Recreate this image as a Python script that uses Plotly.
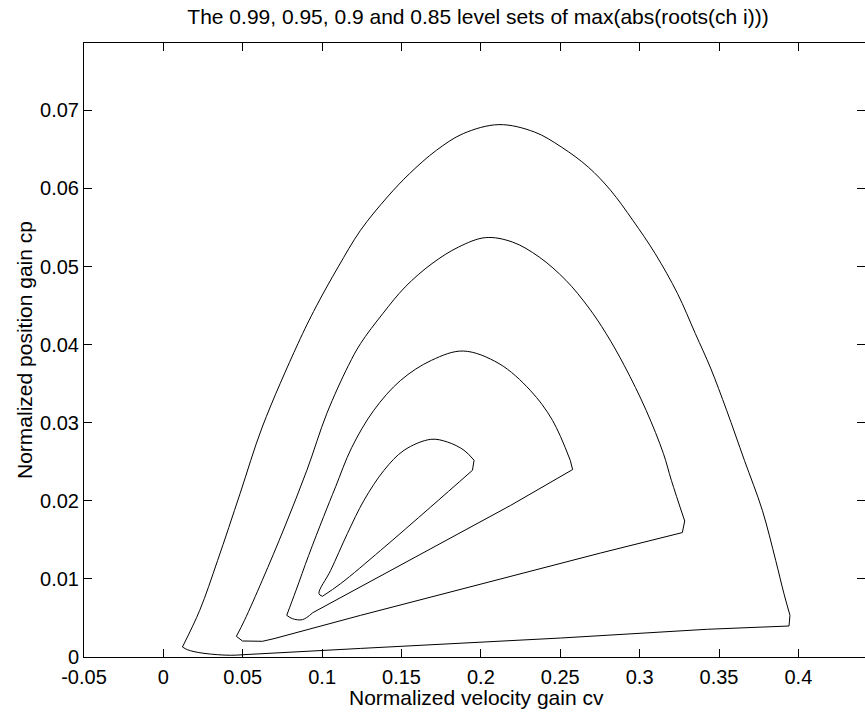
import plotly.graph_objects as go

# ---- data ----
title_text = "The 0.99, 0.95, 0.9 and 0.85 level sets of max(abs(roots(ch i)))"
x_label = "Normalized velocity gain cv"
y_label = "Normalized position gain cp"

x_ticks = [-0.05, 0, 0.05, 0.1, 0.15, 0.2, 0.25, 0.3, 0.35, 0.4]
x_tick_text = ["-0.05", "0", "0.05", "0.1", "0.15", "0.2", "0.25", "0.3", "0.35", "0.4"]
y_ticks = [0, 0.01, 0.02, 0.03, 0.04, 0.05, 0.06, 0.07]
y_tick_text = ["0", "0.01", "0.02", "0.03", "0.04", "0.05", "0.06", "0.07"]

levels = ["0.99", "0.95", "0.9", "0.85"]

cv_099 = [0.0120, 0.0151, 0.0193, 0.0256, 0.0340, 0.0424, 0.0508, 0.1243, 0.2503, 0.3427,
          0.3941, 0.3947, 0.3909, 0.3857, 0.3773, 0.3660, 0.3548, 0.3447, 0.3351, 0.3239,
          0.3098, 0.2957, 0.2817, 0.2676, 0.2507, 0.2338, 0.2114, 0.1889, 0.1720, 0.1551,
          0.1411, 0.1242, 0.1101, 0.0961, 0.0848, 0.0623, 0.0483, 0.0342, 0.0229, 0.0120]
cp_099 = [0.00128, 0.00094, 0.00069, 0.00047, 0.00030, 0.00022, 0.00030, 0.00110, 0.00243, 0.00355,
          0.00397, 0.00534, 0.00812, 0.01238, 0.01878, 0.02519, 0.03159, 0.03700, 0.04141, 0.04653,
          0.05165, 0.05592, 0.05976, 0.06274, 0.06530, 0.06722, 0.06817, 0.06702, 0.06488, 0.06190,
          0.05890, 0.05464, 0.04994, 0.04482, 0.04013, 0.02945, 0.02092, 0.01238, 0.00598, 0.00128]
corners_099 = [0, 6, 7, 8, 9, 10, 11, 39]

cv_095 = [0.0460, 0.0498, 0.0624, 0.0697, 0.1243, 0.2755, 0.3269, 0.3284, 0.3200, 0.3150,
          0.3041, 0.2904, 0.2789, 0.2676, 0.2536, 0.2367, 0.2198, 0.2029, 0.1860, 0.1692,
          0.1523, 0.1382, 0.1242, 0.1165, 0.1030, 0.0904, 0.0764, 0.0623, 0.0511, 0.0460]
cp_095 = [0.00265, 0.00205, 0.00201, 0.00235, 0.00534, 0.01332, 0.01593, 0.01741, 0.02262, 0.02604,
          0.03159, 0.03730, 0.04141, 0.04482, 0.04823, 0.05122, 0.05314, 0.05370, 0.05250, 0.05037,
          0.04738, 0.04397, 0.04013, 0.03730, 0.03120, 0.02391, 0.01665, 0.00982, 0.00470, 0.00265]
corners_095 = [0, 1, 2, 3, 4, 5, 6, 7, 29]

cv_090 = [0.0777, 0.0813, 0.0876, 0.0940, 0.2188, 0.2578, 0.2563, 0.2451, 0.2311, 0.2114,
          0.1889, 0.1690, 0.1495, 0.1326, 0.1186, 0.1085, 0.1010, 0.0915, 0.0835, 0.0777]
cp_090 = [0.00534, 0.00491, 0.00478, 0.00566, 0.01942, 0.02400, 0.02519, 0.03031, 0.03415, 0.03757,
          0.03918, 0.03800, 0.03543, 0.03160, 0.02680, 0.02180, 0.01800, 0.01300, 0.00850, 0.00534]
corners_090 = [0, 3, 4, 5, 6, 19]

cv_085 = [0.1002, 0.1117, 0.1369, 0.1684, 0.1947, 0.1957, 0.1894, 0.1789, 0.1684, 0.1516,
          0.1390, 0.1264, 0.1159, 0.1054, 0.0980, 0.1002]
cp_085 = [0.00777, 0.00940, 0.01366, 0.01921, 0.02391, 0.02519, 0.02647, 0.02753, 0.02787, 0.02647,
          0.02391, 0.02007, 0.01580, 0.01110, 0.00812, 0.00777]
corners_085 = [0, 4, 5, 15]

curves = [(cv_099, cp_099, corners_099), (cv_095, cp_095, corners_095),
          (cv_090, cp_090, corners_090), (cv_085, cp_085, corners_085)]

FONT = "Liberation Sans, Arial, Helvetica, sans-serif"

fig = go.Figure()
for name, (cv, cp, corners) in zip(levels, curves):
    # each contour is drawn piecewise: smooth arcs between its sharp corners
    for a, b in zip(corners[:-1], corners[1:]):
        fig.add_trace(go.Scatter(x=cv[a:b + 1], y=cp[a:b + 1], mode="lines", name=name,
                                 line=dict(color="black", width=1, shape="spline", smoothing=1.0),
                                 showlegend=False, hoverinfo="skip"))

W, H = 865, 713
ml, mr, mt, mb = 84, 0, 43, 56
fig.update_layout(
    width=W, height=H,
    margin=dict(l=ml, r=mr, t=mt, b=mb, pad=0),
    paper_bgcolor="white", plot_bgcolor="white",
    font=dict(family=FONT, size=20, color="black"),
    title=dict(text=title_text, x=478 / W, xref="container", xanchor="center",
               y=1 - 17 / H, yref="container", yanchor="middle",
               font=dict(family=FONT, size=21, color="black")),
)
axis_common = dict(showline=True, linecolor="black", linewidth=1, mirror="ticks",
                   ticks="inside", ticklen=8, tickwidth=1, tickcolor="black",
                   showgrid=False, zeroline=False,
                   tickfont=dict(family=FONT, size=20, color="black"))
fig.update_xaxes(range=[-0.05, 0.44197], tickvals=x_ticks, ticktext=x_tick_text,
                 ticklabelstandoff=2, **axis_common)
fig.update_yaxes(range=[0, 0.07862], tickvals=y_ticks, ticktext=y_tick_text, **axis_common)

plot_w = W - ml - mr
plot_h = H - mt - mb
fig.add_annotation(text=x_label, xref="paper", yref="paper", x=(476 - ml) / plot_w,
                   y=-(697 - (H - mb)) / plot_h, xanchor="center", yanchor="middle",
                   showarrow=False, font=dict(family=FONT, size=21, color="black"))
fig.add_annotation(text=y_label, xref="paper", yref="paper", x=-(ml - 24) / plot_w,
                   y=((H - mb) - 350) / plot_h, xanchor="center", yanchor="middle", textangle=-90,
                   showarrow=False, font=dict(family=FONT, size=21, color="black"))

fig.write_html("out.html")
